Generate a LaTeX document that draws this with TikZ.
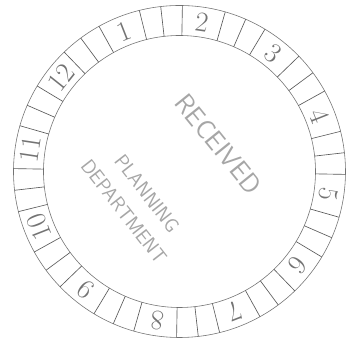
\documentclass[tikz,border=0pt]{standalone}
\usepackage{tikz}
\usetikzlibrary{positioning}
\tikzstyle{ring} = [draw=black!55, line width=0.5pt]

\begin{document}
\begin{tikzpicture}[x=0.03cm, y=0.03cm,
  hour/.style={font=\fontsize{24}{24}\selectfont, text=black!55, inner sep=0pt},
  spoke/.style={draw=black!65, line width=0.55pt},
  stamp/.style={font=\sffamily\fontsize{17}{25}\selectfont, text=black!35,
                align=center, inner sep=0pt}
]
  \useasboundingbox (-179.5,-173.5) rectangle (171.5,171.5);

  % outer and inner ring
  \draw[ring] (0,0) circle (166);
  \draw[ring] (0,0) circle (136);

  % cell walls, three per hour
  \foreach \m in {0,...,11} {
    \foreach \d in {0,15,22.5} {
      \draw[spoke] ({119-30*\m-\d}:136) -- ({119-30*\m-\d}:166);
    }
  }

  % hour numbers
  \foreach \k in {1,...,12} {
    \node[hour, rotate={21.5-30*(\k-1)}] (h\k) at ({111.5-30*(\k-1)}:151) {\k};
  }

  % stamped texts
  \node[stamp, rotate=-52] (dept) at (-44,-31) {PLANNING\\DEPARTMENT};
  \node[stamp, rotate=-51, font=\sffamily\fontsize{23}{25}\selectfont] (recv) at (39,27) {RECEIVED};
\end{tikzpicture}
\end{document}
